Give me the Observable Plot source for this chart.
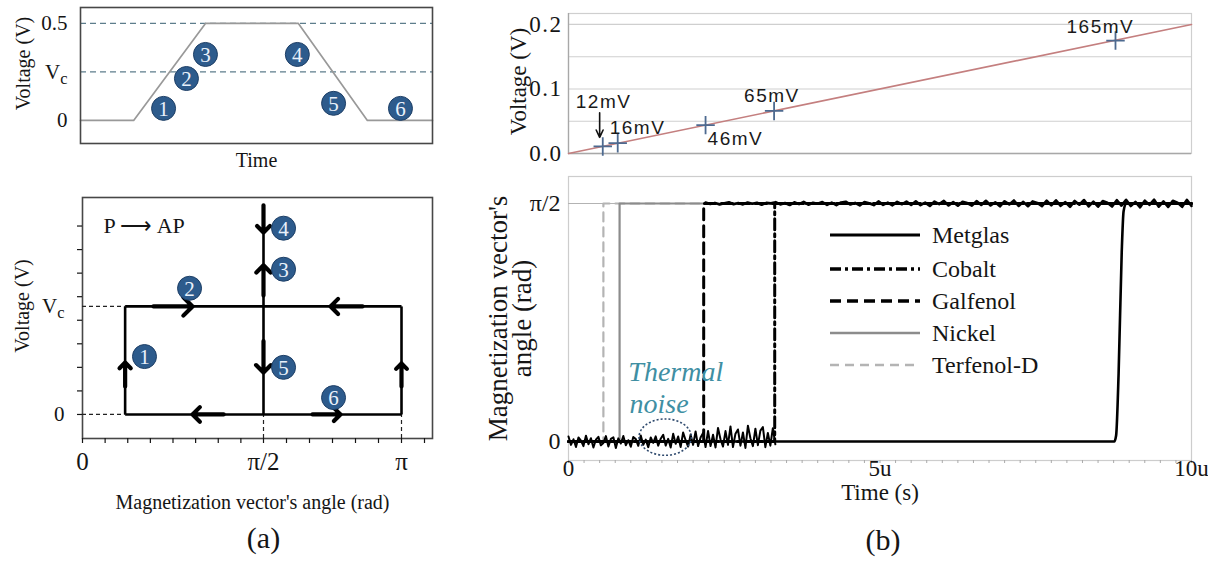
<!DOCTYPE html>
<html><head><meta charset="utf-8">
<script src="https://cdn.jsdelivr.net/npm/d3@7"></script>
<script src="https://cdn.jsdelivr.net/npm/@observablehq/plot@0.6"></script>
<style>
body{margin:0;background:#fff;}
#wrap{position:relative;width:1208px;height:563px;overflow:hidden;background:#fff;}
#wrap svg{position:absolute;left:0;top:0;background:transparent;}
</style></head>
<body><div id="wrap"></div>
<script>
// ================= DATA =================
// (a) top: applied voltage pulse (arbitrary time units)
const pulseTime = [0, 1.51, 3.55, 6.19, 8.15, 10];
const pulseVolt = [0, 0, 0.5, 0.5, 0, 0];
const vc = 0.25;
const pulseRefLevels = [0.5, vc];
const stageLabels = ["1", "2", "3", "4", "5", "6"];
const stageTime = [2.36, 3.01, 3.55, 6.16, 7.19, 9.09];
const stageVolt = [0.062, 0.216, 0.340, 0.340, 0.088, 0.062];

// (a) bottom: voltage vs magnetization angle loop (P -> AP)
const loopAngleStart = 0.37, loopAngleMid = Math.PI / 2, loopAngleEnd = Math.PI;
const loopTopVolt = 0.484;
const stageAngle = [0.538, 0.929, 1.799, 1.799, 1.799, 2.368];
const stageLoopVolt = [0.134, 0.292, 0.336, 0.431, 0.109, 0.039];
const arrowX1 = [0.37, 0.616, 2.698, Math.PI / 2, Math.PI / 2, Math.PI / 2, 1.225, 2.129, Math.PI];
const arrowY1 = [0.065, vc, vc, 0.484, 0.275, 0.17, 0, 0, 0.065];
const arrowX2 = [0.37, 0.955, 2.334, Math.PI / 2, Math.PI / 2, Math.PI / 2, 0.955, 2.447, Math.PI];
const arrowY2 = [0.12, vc, vc, 0.421, 0.345, 0.097, 0, 0, 0.118];

// (b) top: voltage ramp and critical voltages (time in µs)
const rampTime = [0, 10];
const rampVolt = [0, 0.2];
const switchTime = [0.55, 0.79, 2.2, 3.3, 8.78];
const switchVolt = [0.011, 0.016, 0.044, 0.066, 0.175];
const switchLabels = ["12mV", "16mV", "46mV", "65mV", "165mV"];

// (b) bottom: magnetization angle vs time
const stepMaterials = ["Terfenol-D", "Nickel", "Galfenol", "Cobalt"];
const stepSwitchTime = [0.56, 0.82, 2.17, 3.31];
const metglasTime = [0, 8.76, 8.79, 8.83, 8.88, 8.91, 8.95, 10];
const metglasAngle = [0, 0, 0.04, 0.45, 1.25, 1.52, 1.5708, 1.5708];
const legendOrder = ["Metglas", "Cobalt", "Galfenol", "Nickel", "Terfenol-D"];
// thermal noise samples (rad) around 0, sampled every 0.04 µs from t=0
const noiseLowStart = 0, noiseLowStep = 0.04;
const noiseLow = [0.033,-0.022,0.015,-0.036,0.027,0.006,-0.030,0.039,-0.018,0.022,-0.039,0.012,0.031,-0.025,-0.009,0.036,-0.033,0.018,0.028,-0.042,0.021,-0.013,0.037,-0.024,0.009,-0.034,0.030,0.016,-0.028,0.040,-0.021,0.013,-0.037,0.027,-0.009,0.034,-0.027,0.019,
0.045,-0.027,0.018,-0.039,0.051,-0.015,0.033,-0.036,0.060,0.009,-0.033,0.046,-0.022,0.067,-0.030,0.027,0.057,-0.036,
0.070,-0.030,0.045,-0.039,0.090,0.015,-0.033,0.069,-0.022,0.100,-0.036,0.052,0.080,-0.027,0.060,-0.042,0.105,0.022,-0.030,0.085,-0.024,0.072,0.095,-0.037,0.057,-0.027,0.088,-0.018];
// noise around pi/2 (offset, rad), sampled every 0.075 µs from t=2.2
const noiseHighStart = 2.2, noiseHighStep = 0.075;
const noiseHigh = [0.006,-0.003,0.004,-0.007,0.002,0.008,-0.005,0.003,-0.006,0.007,-0.002,0.005,-0.008,0.004,0.001,
0.009,-0.006,0.003,-0.010,0.008,-0.004,0.011,-0.008,0.005,-0.002,0.010,-0.009,0.006,-0.011,0.007,
0.012,-0.007,0.004,-0.013,0.010,0.002,-0.011,0.014,-0.009,0.006,-0.012,0.011,-0.005,0.013,-0.010,
0.015,-0.011,0.006,-0.016,0.013,-0.004,0.017,-0.013,0.009,-0.015,0.012,0.003,-0.014,0.016,-0.010,
0.018,-0.013,0.008,-0.019,0.015,-0.006,0.020,-0.016,0.011,-0.018,0.014,0.004,-0.017,0.019,-0.012,
0.021,-0.015,0.009,-0.022,0.017,-0.008,0.023,-0.019,0.012,-0.021,0.016,0.005,-0.020,0.022,-0.014,
0.024,-0.017,0.011,-0.025,0.019,-0.009,0.025,-0.021,0.014,-0.023,0.018,0.006,-0.022,0.024,-0.016];

// ================= STYLE =================
const W = 1208, H = 563;
const serif = "'Liberation Serif','Times New Roman',serif";
const sans = "'Liberation Sans',Arial,sans-serif";
const ink = "#151515";
const badge = "#2d5b8c";
const matStyle = {
  "Metglas":    {stroke: "#000", w: 2.6, dash: null},
  "Cobalt":     {stroke: "#000", w: 3, dash: "11,4,3,4"},
  "Galfenol":   {stroke: "#000", w: 3, dash: "11,6"},
  "Nickel":     {stroke: "#8c8c8c", w: 2.2, dash: null},
  "Terfenol-D": {stroke: "#b4b4b4", w: 2.2, dash: "9,6"}
};
const wrap = document.getElementById("wrap");
const NS = "http://www.w3.org/2000/svg";
function place(svg) {
  svg.style.position = "absolute"; svg.style.left = "0px"; svg.style.top = "0px";
  svg.style.background = "transparent"; svg.style.overflow = "visible";
  wrap.appendChild(svg); return svg;
}
function subscriptVc(svg) {
  svg.querySelectorAll("text").forEach(t => {
    if (t.textContent === "Vc") {
      t.textContent = "V";
      const s = document.createElementNS(NS, "tspan");
      s.setAttribute("dy", "0.32em"); s.setAttribute("font-size", "0.78em");
      s.textContent = "c"; t.appendChild(s);
    }
  });
}
const title = (txt, o) => Plot.text([txt], {text: d => d, textAnchor: "middle", lineAnchor: "middle", ...o});

// ================= (a) TOP =================
const pulse = pulseTime.map((t, i) => ({t, v: pulseVolt[i]}));
const stages = stageLabels.map((id, i) => ({id, t: stageTime[i], v: stageVolt[i]}));
const yTicksA = [0, vc, 0.5], yLabA = ["0", "Vc", "0.5"];
const pA1 = Plot.plot({
  width: W, height: H,
  marginLeft: 80, marginRight: W - 432, marginTop: 7, marginBottom: H - 143,
  style: {fontFamily: serif, color: ink, background: "transparent"},
  x: {domain: [0, 10], axis: null},
  y: {domain: [-0.119, 0.582], axis: null},
  marks: [
    Plot.ruleY(pulseRefLevels, {stroke: "#5d7d8c", strokeWidth: 1.2, strokeDasharray: "6,4"}),
    Plot.line(pulse, {x: "t", y: "v", stroke: "#999", strokeWidth: 1.7}),
    Plot.frame({stroke: "#474747", strokeWidth: 1.6}),
    Plot.axisY({ticks: yTicksA, tickFormat: d => yLabA[yTicksA.indexOf(d)], tickSize: 0, tickPadding: 13, fontSize: 21, label: null}),
    title("Voltage (V)", {frameAnchor: "left", rotate: -90, dx: -57, dy: -12, fontSize: 20}),
    title("Time", {frameAnchor: "bottom", dy: 17, fontSize: 20}),
    Plot.dot(stages, {x: "t", y: "v", r: 12, fill: badge, stroke: "#1e3f66", strokeWidth: 1}),
    Plot.text(stages, {x: "t", y: "v", text: "id", fill: "#e9f1fb", fontSize: 21, dy: 1})
  ]
});
subscriptVc(place(pA1));

// ================= (a) BOTTOM =================
const loopSegments = [
  {x1: loopAngleStart, y1: 0, x2: loopAngleStart, y2: vc},
  {x1: loopAngleStart, y1: vc, x2: loopAngleEnd, y2: vc},
  {x1: loopAngleEnd, y1: 0, x2: loopAngleEnd, y2: vc},
  {x1: loopAngleStart, y1: 0, x2: loopAngleEnd, y2: 0},
  {x1: loopAngleMid, y1: 0, x2: loopAngleMid, y2: loopTopVolt}
];
const loopArrows = arrowX1.map((x1, i) => ({x1, y1: arrowY1[i], x2: arrowX2[i], y2: arrowY2[i]}));
const loopStages = stageLabels.map((id, i) => ({id, a: stageAngle[i], v: stageLoopVolt[i]}));
const xMinorB = d3.range(0, Math.PI / 2 + 0.01, Math.PI / 16).concat(d3.range(Math.PI / 2 + Math.PI / 12, Math.PI * 13 / 12 + 0.01, Math.PI / 12));
const yMinorB = d3.range(0, 0.45, 0.0545);
const xTicksB = [0, Math.PI / 2, Math.PI], xLabB = ["0", "\u03C0/2", "\u03C0"];
const yTicksB = [0, vc], yLabB = ["0", "Vc"];
const yMin = -0.0556;
const pA2 = Plot.plot({
  width: W, height: H,
  marginLeft: 82, marginRight: W - 432, marginTop: 197, marginBottom: H - 438,
  style: {fontFamily: serif, color: ink, background: "transparent"},
  x: {type: "linear", domain: [0, Math.PI / 2, Math.PI], range: [82, 263, 401], axis: null},
  y: {domain: [yMin, 0.502], axis: null},
  marks: [
    Plot.frame({stroke: "#474747", strokeWidth: 1.6}),
    Plot.axisX({ticks: xMinorB, tickFormat: () => "", tickSize: 5, strokeWidth: 1.2, label: null}),
    Plot.axisY({ticks: yMinorB, tickFormat: () => "", tickSize: 5, strokeWidth: 1.2, label: null}),
    Plot.axisX({ticks: xTicksB, tickFormat: d => xLabB[xTicksB.indexOf(d)], tickSize: 0, tickPadding: 14, fontSize: 25, label: null}),
    Plot.axisY({ticks: yTicksB, tickFormat: d => yLabB[yTicksB.indexOf(d)], tickSize: 0, tickPadding: 18, fontSize: 21, label: null}),
    Plot.ruleY([0, vc], {x1: 0, x2: loopAngleStart, stroke: "#222", strokeWidth: 1.2, strokeDasharray: "4,3"}),
    Plot.ruleX([loopAngleMid, loopAngleEnd], {y1: yMin, y2: 0, stroke: "#222", strokeWidth: 1.2, strokeDasharray: "4,3"}),
    Plot.link(loopSegments, {x1: "x1", y1: "y1", x2: "x2", y2: "y2", stroke: "#000", strokeWidth: 2.6}),
    Plot.arrow(loopArrows, {x1: "x1", y1: "y1", x2: "x2", y2: "y2", stroke: "#000", strokeWidth: 4.2, headLength: 16, headAngle: 90}),
    Plot.dot(loopStages, {x: "a", y: "v", r: 12, fill: badge, stroke: "#1e3f66", strokeWidth: 1}),
    Plot.text(loopStages, {x: "a", y: "v", text: "id", fill: "#e9f1fb", fontSize: 21, dy: 1}),
    Plot.text(["P \u27F6 AP"], {text: d => d, frameAnchor: "top-left", dx: 21, dy: 28, textAnchor: "start", lineAnchor: "middle", fontSize: 22}),
    title("Voltage (V)", {frameAnchor: "left", rotate: -90, dx: -60, dy: -12, fontSize: 20}),
    title("Magnetization vector's angle (rad)", {frameAnchor: "bottom", dx: -5, dy: 64, fontSize: 20}),
    title("(a)", {frameAnchor: "bottom", dx: 6, dy: 100, fontSize: 30})
  ]
});
subscriptVc(place(pA2));

// ================= (b) TOP =================
const ramp = rampTime.map((t, i) => ({t, v: rampVolt[i]}));
const switches = switchLabels.map((label, i) => ({label, t: switchTime[i], v: switchVolt[i]}));
const labelPlacement = [{dx: -27, dy: -44}, {dx: -8, dy: -15}, {dx: 2, dy: 14}, {dx: -30, dy: -15}, {dx: -49, dy: -14}];
const pB1 = Plot.plot({
  width: W, height: H,
  marginLeft: 568, marginRight: W - 1191, marginTop: 13, marginBottom: H - 153,
  style: {fontFamily: serif, color: ink, background: "transparent"},
  x: {domain: [0, 10], axis: null},
  y: {domain: [0, 0.217], axis: null},
  marks: [
    Plot.gridY([0.05, 0.1, 0.15, 0.2], {stroke: "#cfcfcf", strokeOpacity: 1, strokeWidth: 1.2}),
    Plot.frame({stroke: "#cfcfcf", strokeWidth: 1.2}),
    Plot.ruleX([0], {stroke: "#a8a8a8", strokeWidth: 1.3}),
    Plot.ruleY([0], {stroke: "#a8a8a8", strokeWidth: 1.3}),
    Plot.line(ramp, {x: "t", y: "v", stroke: "#c47f7f", strokeWidth: 1.6}),
    Plot.dot(switches, {x: "t", y: "v", symbol: "plus", r: 6, stroke: "#4d6a90", strokeWidth: 1.8}),
    ...switches.map((s, i) => Plot.text([s], {x: "t", y: "v", text: "label", textAnchor: "start", lineAnchor: "bottom", dx: labelPlacement[i].dx, dy: labelPlacement[i].dy + 6, fontSize: 19, fontFamily: sans, fill: "#1a1a1a"})),
    Plot.arrow([switches[0]], {x1: d => d.t - 0.05, x2: d => d.t - 0.05, y1: d => d.v + 0.052, y2: d => d.v + 0.014, stroke: "#111", strokeWidth: 1.6, headLength: 8, headAngle: 50}),
    Plot.axisY({ticks: [0, 0.1, 0.2], tickFormat: ".1f", tickSize: 0, tickPadding: 6, fontSize: 23, label: null}),
    title("Voltage (V)", {frameAnchor: "left", rotate: -90, dx: -50, dy: -2, fontSize: 23})
  ]
});
place(pB1);
pB1.querySelectorAll("text").forEach(t => { if (/mV/.test(t.textContent) || /^0\.\d$/.test(t.textContent)) t.style.letterSpacing = "1.5px"; });

// ================= (b) BOTTOM =================
const HALF_PI = Math.PI / 2;
const stepTraces = stepMaterials.map((m, i) => [
  {t: 0, a: 0}, {t: stepSwitchTime[i], a: 0}, {t: stepSwitchTime[i], a: HALF_PI}, {t: 10, a: HALF_PI}
]);
const metglas = metglasTime.map((t, i) => ({t, a: metglasAngle[i]}));
const noiseLowPts = noiseLow.map((a, i) => ({t: noiseLowStart + i * noiseLowStep, a}));
const noiseHighPts = noiseHigh.map((a, i) => ({t: noiseHighStart + i * noiseHighStep, a: HALF_PI + a}));
const xTicksD = [0, 5, 10], xLabD = ["0", "5u", "10u"];
const yTicksD = [0, HALF_PI], yLabD = ["0", "\u03C0/2"];
const noiseCircle = {t: 1.56, a: 0.026, rt: 0.42, ra: 0.12};
function ellipseMark(index, scales) {
  const g = document.createElementNS(NS, "g");
  const e = document.createElementNS(NS, "ellipse");
  const cx = scales.x(noiseCircle.t), cy = scales.y(noiseCircle.a);
  e.setAttribute("cx", cx); e.setAttribute("cy", cy);
  e.setAttribute("rx", Math.abs(scales.x(noiseCircle.t + noiseCircle.rt) - cx));
  e.setAttribute("ry", Math.abs(scales.y(noiseCircle.a + noiseCircle.ra) - cy));
  e.setAttribute("fill", "none"); e.setAttribute("stroke", "#2f4a6e");
  e.setAttribute("stroke-width", "1.6"); e.setAttribute("stroke-dasharray", "2,2");
  g.appendChild(e); return g;
}
const pB2 = Plot.plot({
  width: W, height: H,
  marginLeft: 568, marginRight: W - 1191, marginTop: 176, marginBottom: H - 460,
  style: {fontFamily: serif, color: ink, background: "transparent"},
  x: {domain: [0, 10], axis: null},
  y: {domain: [-0.125, 1.749], axis: null},
  marks: [
    Plot.frame({stroke: "#cdcdcd", strokeWidth: 1.2}),
    Plot.ruleY([HALF_PI], {stroke: "#b3b3b3", strokeWidth: 1.2}),
    Plot.axisX({ticks: d3.range(0, 10.01, 0.25), tickFormat: () => "", tickSize: 3, stroke: "#aaa", label: null}),
    Plot.axisX({ticks: xTicksD, tickFormat: d => xLabD[xTicksD.indexOf(d)], tickSize: 0, tickPadding: -1, fontSize: 23, label: null}),
    Plot.axisY({ticks: yTicksD, tickFormat: d => yLabD[yTicksD.indexOf(d)], tickSize: 0, tickPadding: 8, fontSize: 24, label: null}),
    ...stepMaterials.map((m, i) => Plot.line(stepTraces[i], {x: "t", y: "a", stroke: matStyle[m].stroke, strokeWidth: matStyle[m].w, strokeDasharray: matStyle[m].dash})),
    Plot.line(noiseLowPts, {x: "t", y: "a", stroke: "#000", strokeWidth: 2}),
    Plot.line(noiseHighPts, {x: "t", y: "a", stroke: "#000", strokeWidth: 2.6}),
    Plot.line(metglas, {x: "t", y: "a", stroke: matStyle["Metglas"].stroke, strokeWidth: matStyle["Metglas"].w, curve: "monotone-x"}),
    ellipseMark,
    Plot.text(["Thermal"], {text: d => d, x: 0.96, y: 0.4, textAnchor: "start", lineAnchor: "bottom", fontSize: 28, fontStyle: "italic", fill: "#3f8fa3"}),
    Plot.text(["noise"], {text: d => d, x: 0.98, y: 0.19, textAnchor: "start", lineAnchor: "bottom", fontSize: 28, fontStyle: "italic", fill: "#3f8fa3"}),
    title("Magnetization vector's\nangle (rad)", {frameAnchor: "left", rotate: -90, dx: -57, dy: 0, fontSize: 27, lineHeight: 0.88}),
    title("Time (s)", {frameAnchor: "bottom", dy: 32, fontSize: 23}),
    title("(b)", {frameAnchor: "bottom", dx: 3, dy: 80, fontSize: 30})
  ]
});
place(pB2);

// ---- legend (b) ----
const leg = document.createElementNS(NS, "svg");
leg.setAttribute("width", W); leg.setAttribute("height", H);
const legRowY = [235, 269, 301, 333, 365];
legendOrder.forEach((m, i) => {
  const st = matStyle[m];
  const l = document.createElementNS(NS, "line");
  l.setAttribute("x1", 830); l.setAttribute("x2", 920);
  l.setAttribute("y1", legRowY[i]); l.setAttribute("y2", legRowY[i]);
  l.setAttribute("stroke", st.stroke); l.setAttribute("stroke-width", st.w + 0.4);
  if (st.dash) l.setAttribute("stroke-dasharray", st.dash);
  leg.appendChild(l);
  const t = document.createElementNS(NS, "text");
  t.setAttribute("x", 932); t.setAttribute("y", legRowY[i]); t.setAttribute("dy", "0.35em");
  t.setAttribute("font-family", serif); t.setAttribute("font-size", 24); t.setAttribute("fill", ink);
  t.textContent = m; leg.appendChild(t);
});
place(leg);
</script>
</body></html>
